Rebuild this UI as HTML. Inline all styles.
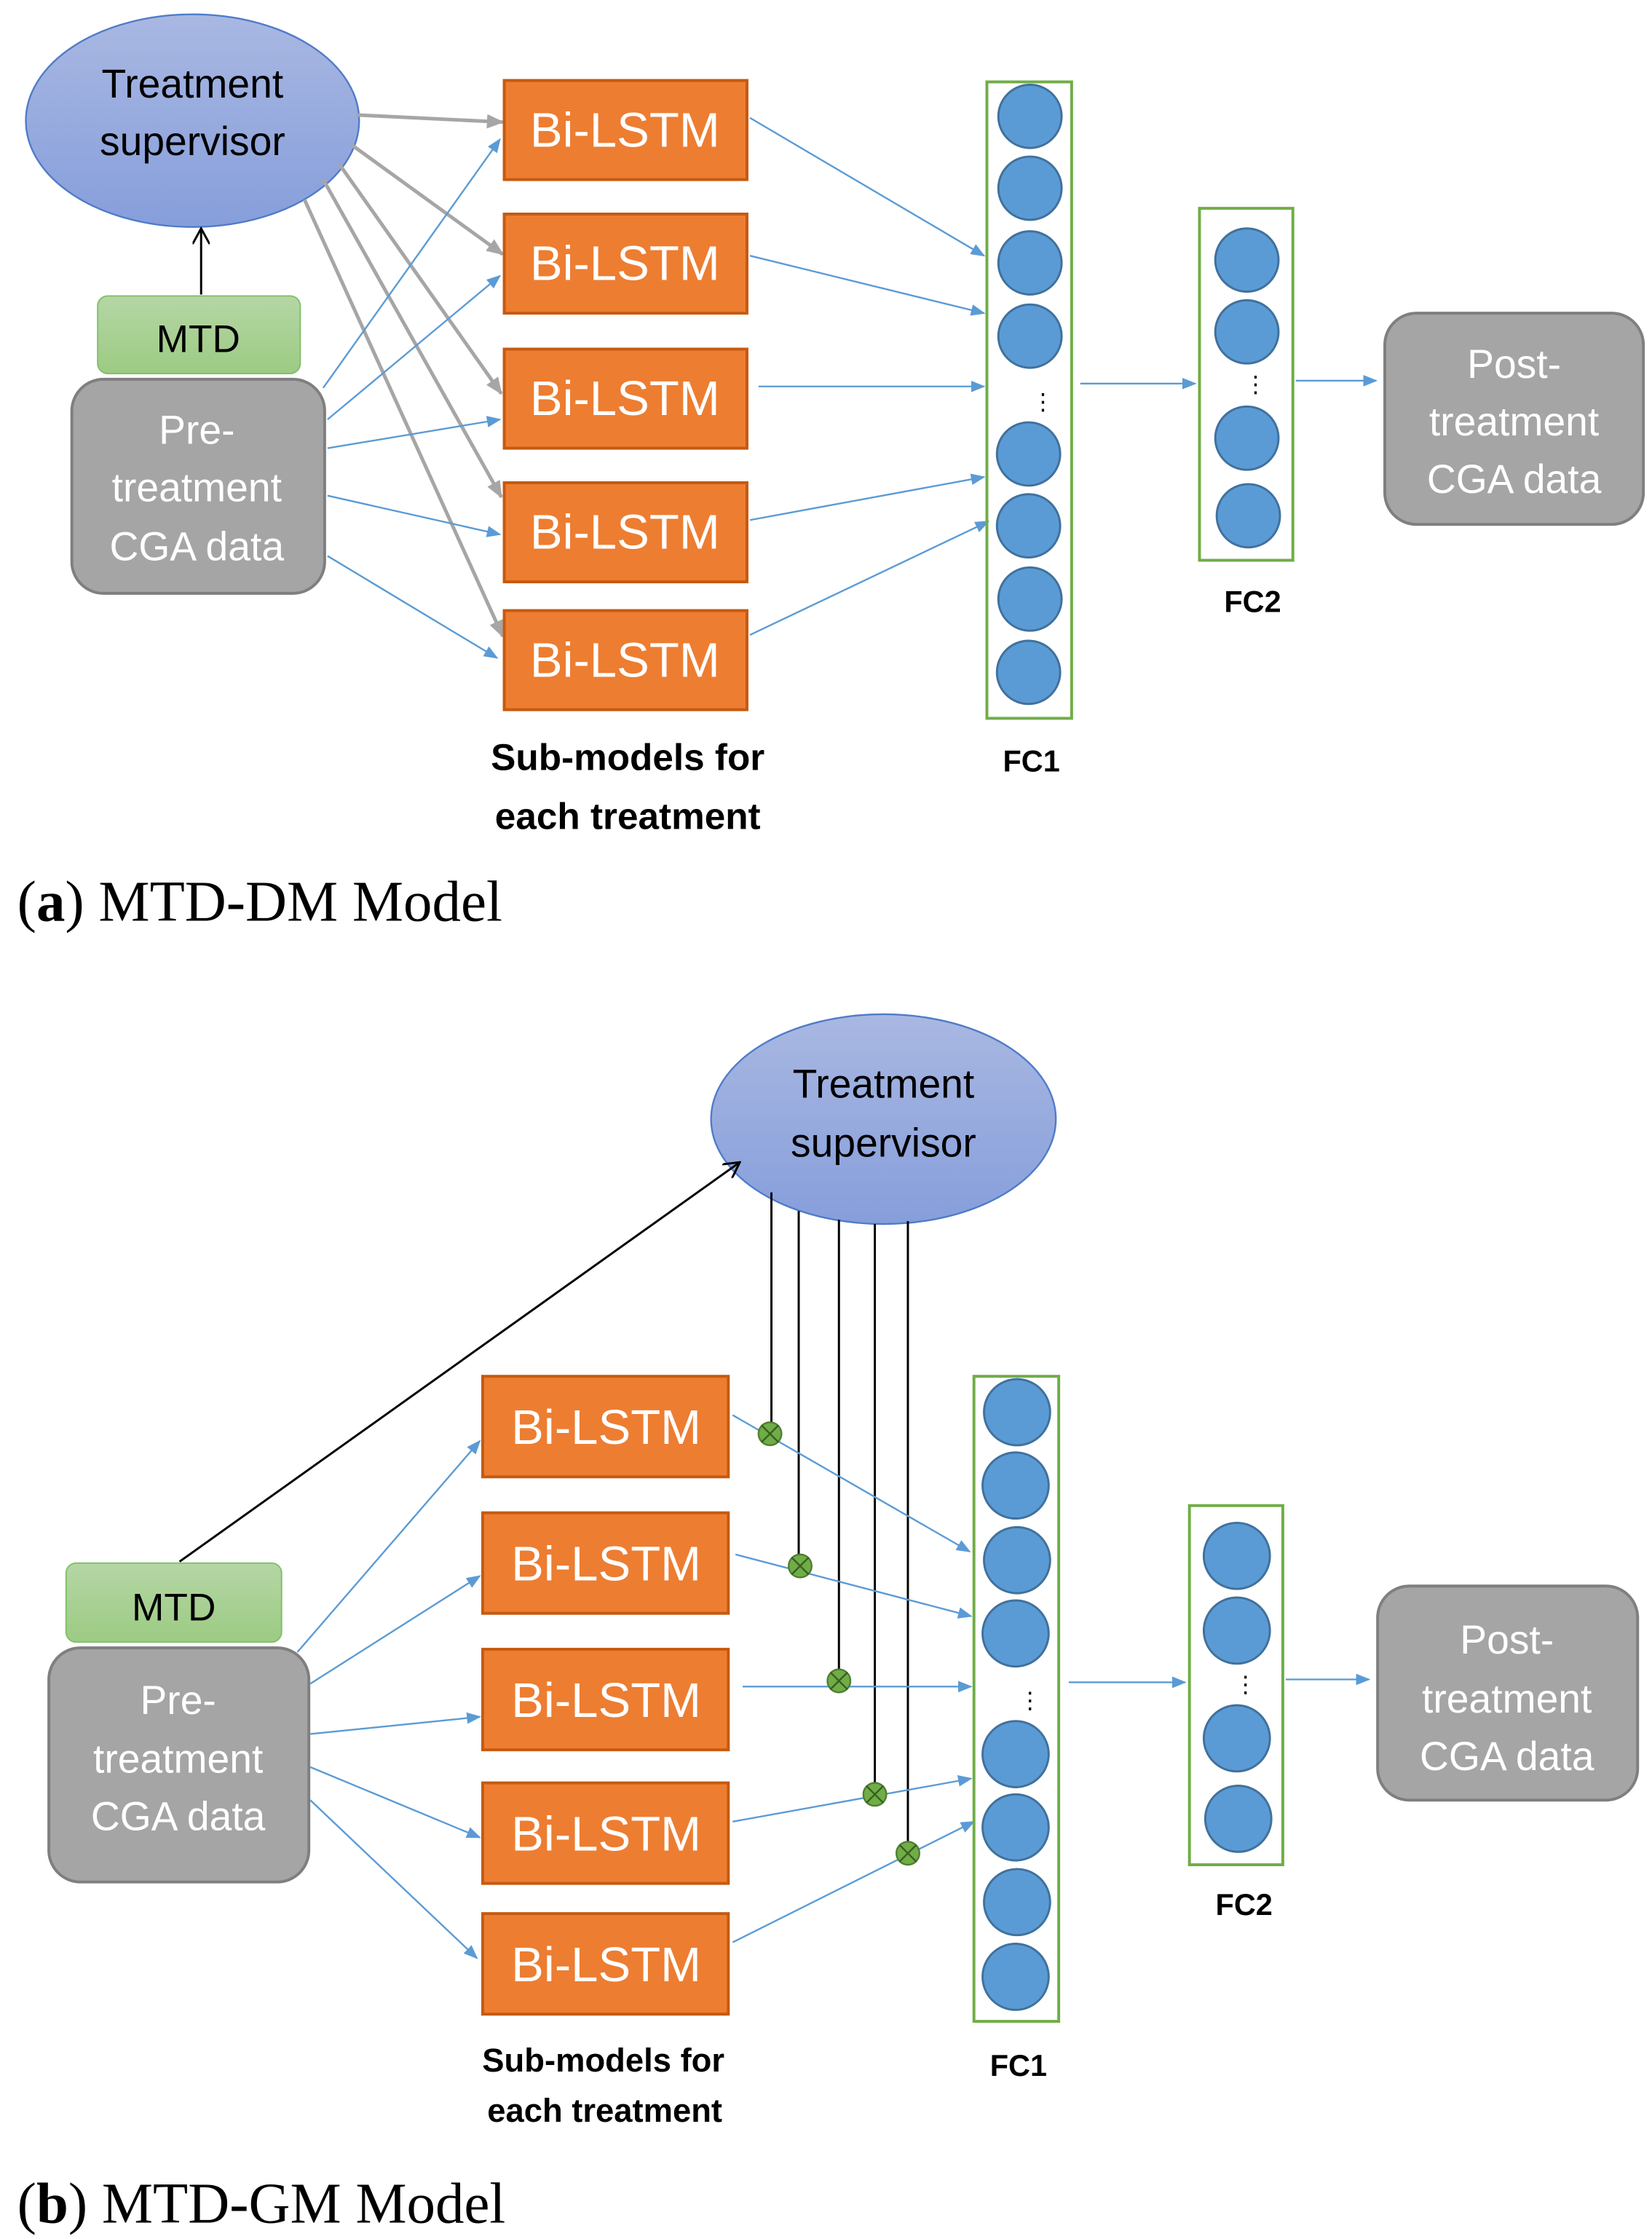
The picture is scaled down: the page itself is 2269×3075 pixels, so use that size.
<!DOCTYPE html>
<html><head><meta charset="utf-8"><style>
html,body{margin:0;padding:0;background:#fff;}
svg{display:block;}
text{font-family:"Liberation Sans","DejaVu Sans",sans-serif;}
.b{font-size:34px;fill:#fff;text-anchor:middle;}
.g{font-size:28px;fill:#fff;text-anchor:middle;}
.lbl{font-weight:bold;fill:#000;text-anchor:middle;}
.cap{font-family:"Liberation Serif",serif;font-size:40px;fill:#000;}
.bl{stroke:#5b9bd5;stroke-width:1.2;fill:none;}
.gr{stroke:#a6a6a6;stroke-width:2.5;fill:none;}
.box{fill:#ed7d31;stroke:#c55a11;stroke-width:2;}
.gb{fill:#a5a5a5;stroke:#7f7f7f;stroke-width:2;}
.c{fill:#5b9bd5;stroke:#41719c;stroke-width:1.5;}
.fc{fill:none;stroke:#70ad47;stroke-width:2;}
</style></head><body>
<svg width="2269" height="3075" viewBox="0 0 1150 1558.5" preserveAspectRatio="none" xmlns="http://www.w3.org/2000/svg">
<defs>
<linearGradient id="eg" x1="0" y1="0" x2="0" y2="1"><stop offset="0" stop-color="#a9b8e2"/><stop offset="1" stop-color="#869edb"/></linearGradient>
<linearGradient id="mg" x1="0" y1="0" x2="0" y2="1"><stop offset="0" stop-color="#b5d6a5"/><stop offset="1" stop-color="#9ccb83"/></linearGradient>
<marker id="ab" markerWidth="10" markerHeight="8" refX="9" refY="4" orient="auto" markerUnits="userSpaceOnUse"><path d="M0,0 L10,4 L0,8 z" fill="#5b9bd5"/></marker>
<marker id="ag" markerWidth="12" markerHeight="10" refX="11" refY="5" orient="auto" markerUnits="userSpaceOnUse"><path d="M0,0 L12,5 L0,10 z" fill="#a6a6a6"/></marker>
<marker id="ak" markerWidth="12" markerHeight="12" refX="11" refY="6" orient="auto" markerUnits="userSpaceOnUse"><path d="M0,0 L11,6 L0,12" fill="none" stroke="#000" stroke-width="1.5"/></marker>
</defs>

<!-- ===== (a) ===== -->
<ellipse cx="134" cy="84" rx="116" ry="74" fill="url(#eg)" stroke="#4f7bc8" stroke-width="1.2"/>
<text x="134" y="68" font-size="28" text-anchor="middle">Treatment</text>
<text x="134" y="108" font-size="28" text-anchor="middle">supervisor</text>
<line x1="140" y1="205" x2="140" y2="159" stroke="#000" stroke-width="1.5" marker-end="url(#ak)"/>
<rect x="68" y="206" width="141" height="54" rx="7" fill="url(#mg)" stroke="#82c06a" stroke-width="1"/>
<text x="138" y="245" font-size="27" text-anchor="middle">MTD</text>
<rect x="50" y="264" width="176" height="149" rx="22" class="gb"/>
<text x="137" y="309" class="g">Pre-</text>
<text x="137" y="349" class="g">treatment</text>
<text x="137" y="390" class="g">CGA data</text>

<g class="gr">
<line x1="248" y1="80" x2="350" y2="85" marker-end="url(#ag)"/>
<line x1="245" y1="101" x2="350" y2="177" marker-end="url(#ag)"/>
<line x1="236" y1="114" x2="349" y2="274" marker-end="url(#ag)"/>
<line x1="225" y1="125" x2="349" y2="346" marker-end="url(#ag)"/>
<line x1="212" y1="139" x2="350" y2="443" marker-end="url(#ag)"/>
</g>
<g class="bl" marker-end="url(#ab)">
<line x1="225" y1="270" x2="348" y2="97"/>
<line x1="228" y1="292" x2="348" y2="192"/>
<line x1="228" y1="312" x2="348" y2="292"/>
<line x1="228" y1="345" x2="348" y2="372"/>
<line x1="228" y1="387" x2="346" y2="458"/>
</g>
<g>
<rect x="351" y="56" width="169" height="69" class="box"/><text x="435" y="102" class="b">Bi-LSTM</text>
<rect x="351" y="149" width="169" height="69" class="box"/><text x="435" y="195" class="b">Bi-LSTM</text>
<rect x="351" y="243" width="169" height="69" class="box"/><text x="435" y="289" class="b">Bi-LSTM</text>
<rect x="351" y="336" width="169" height="69" class="box"/><text x="435" y="382" class="b">Bi-LSTM</text>
<rect x="351" y="425" width="169" height="69" class="box"/><text x="435" y="471" class="b">Bi-LSTM</text>
</g>
<g class="bl" marker-end="url(#ab)">
<line x1="522" y1="82" x2="685" y2="178"/>
<line x1="522" y1="178" x2="685" y2="218"/>
<line x1="528" y1="269" x2="685" y2="269"/>
<line x1="522" y1="362" x2="685" y2="332"/>
<line x1="522" y1="442" x2="688" y2="363"/>
<line x1="752" y1="267" x2="832" y2="267"/>
<line x1="902" y1="265" x2="958" y2="265"/>
</g>
<rect x="687" y="57" width="59" height="443" class="fc"/>
<g class="c">
<ellipse cx="717" cy="81" rx="22" ry="22"/><ellipse cx="717" cy="131" rx="22" ry="22"/>
<ellipse cx="717" cy="183" rx="22" ry="22"/><ellipse cx="717" cy="234" rx="22" ry="22"/>
<ellipse cx="716" cy="316" rx="22" ry="22"/><ellipse cx="716" cy="366" rx="22" ry="22"/>
<ellipse cx="717" cy="417" rx="22" ry="22"/><ellipse cx="716" cy="468" rx="22" ry="22"/>
</g>
<text x="726" y="285" font-size="16" text-anchor="middle">⋮</text>
<rect x="835" y="145" width="65" height="245" class="fc"/>
<g class="c">
<ellipse cx="868" cy="181" rx="22" ry="22"/><ellipse cx="868" cy="231" rx="22" ry="22"/>
<ellipse cx="868" cy="305" rx="22" ry="22"/><ellipse cx="869" cy="359" rx="22" ry="22"/>
</g>
<text x="874" y="273" font-size="16" text-anchor="middle">⋮</text>
<rect x="964" y="218" width="180" height="147" rx="22" class="gb"/>
<text x="1054" y="263" class="g">Post-</text>
<text x="1054" y="303" class="g">treatment</text>
<text x="1054" y="343" class="g">CGA data</text>
<text x="718" y="537" class="lbl" font-size="21">FC1</text>
<text x="872" y="426" class="lbl" font-size="21">FC2</text>
<text x="437" y="536" class="lbl" font-size="26">Sub-models for</text>
<text x="437" y="577" class="lbl" font-size="26">each treatment</text>
<text x="12" y="641" class="cap">(<tspan font-weight="bold">a</tspan>) MTD-DM Model</text>

<!-- ===== (b) ===== -->
<ellipse cx="615" cy="779" rx="120" ry="73" fill="url(#eg)" stroke="#4f7bc8" stroke-width="1.2"/>
<text x="615" y="764" font-size="28" text-anchor="middle">Treatment</text>
<text x="615" y="805" font-size="28" text-anchor="middle">supervisor</text>
<line x1="125" y1="1087" x2="515" y2="809" stroke="#000" stroke-width="1.5" marker-end="url(#ak)"/>
<g stroke="#000" stroke-width="1.5">
<line x1="537" y1="830" x2="537" y2="997"/>
<line x1="556" y1="843" x2="556" y2="1090"/>
<line x1="584" y1="849" x2="584" y2="1170"/>
<line x1="609" y1="852" x2="609" y2="1249"/>
<line x1="632" y1="850" x2="632" y2="1290"/>
</g>
<rect x="46" y="1088" width="150" height="55" rx="7" fill="url(#mg)" stroke="#82c06a" stroke-width="1"/>
<text x="121" y="1128" font-size="27" text-anchor="middle">MTD</text>
<rect x="34" y="1147" width="181" height="163" rx="22" class="gb"/>
<text x="124" y="1193" class="g">Pre-</text>
<text x="124" y="1234" class="g">treatment</text>
<text x="124" y="1274" class="g">CGA data</text>
<g class="bl" marker-end="url(#ab)">
<line x1="207" y1="1150" x2="334" y2="1003"/>
<line x1="216" y1="1172" x2="334" y2="1097"/>
<line x1="216" y1="1207" x2="334" y2="1195"/>
<line x1="216" y1="1230" x2="334" y2="1279"/>
<line x1="216" y1="1253" x2="332" y2="1363"/>
</g>
<g>
<rect x="336" y="958" width="171" height="70" class="box"/><text x="422" y="1005" class="b">Bi-LSTM</text>
<rect x="336" y="1053" width="171" height="70" class="box"/><text x="422" y="1100" class="b">Bi-LSTM</text>
<rect x="336" y="1148" width="171" height="70" class="box"/><text x="422" y="1195" class="b">Bi-LSTM</text>
<rect x="336" y="1241" width="171" height="70" class="box"/><text x="422" y="1288" class="b">Bi-LSTM</text>
<rect x="336" y="1332" width="171" height="70" class="box"/><text x="422" y="1379" class="b">Bi-LSTM</text>
</g>
<g class="bl" marker-end="url(#ab)">
<line x1="510" y1="985" x2="675" y2="1080"/>
<line x1="512" y1="1082" x2="676" y2="1125"/>
<line x1="517" y1="1174" x2="676" y2="1174"/>
<line x1="510" y1="1268" x2="676" y2="1238"/>
<line x1="510" y1="1352" x2="678" y2="1268"/>
<line x1="744" y1="1171" x2="825" y2="1171"/>
<line x1="895" y1="1169" x2="953" y2="1169"/>
</g>
<g fill="#70ad47" stroke="#507e32" stroke-width="1.2">
<circle cx="536" cy="998" r="8"/><circle cx="557" cy="1090" r="8"/>
<circle cx="584" cy="1170" r="8"/><circle cx="609" cy="1249" r="8"/>
<circle cx="632" cy="1290" r="8"/>
</g>
<g stroke="#3a5e22" stroke-width="1.2">
<path d="M530,992 l12,12 M542,992 l-12,12"/><path d="M551,1084 l12,12 M563,1084 l-12,12"/>
<path d="M578,1164 l12,12 M590,1164 l-12,12"/><path d="M603,1243 l12,12 M615,1243 l-12,12"/>
<path d="M626,1284 l12,12 M638,1284 l-12,12"/>
</g>
<rect x="678" y="958" width="59" height="449" class="fc"/>
<g class="c">
<ellipse cx="708" cy="983" rx="23" ry="23"/><ellipse cx="707" cy="1034" rx="23" ry="23"/>
<ellipse cx="708" cy="1086" rx="23" ry="23"/><ellipse cx="707" cy="1137" rx="23" ry="23"/>
<ellipse cx="707" cy="1221" rx="23" ry="23"/><ellipse cx="707" cy="1272" rx="23" ry="23"/>
<ellipse cx="708" cy="1324" rx="23" ry="23"/><ellipse cx="707" cy="1376" rx="23" ry="23"/>
</g>
<text x="717" y="1189" font-size="16" text-anchor="middle">⋮</text>
<rect x="828" y="1048" width="65" height="250" class="fc"/>
<g class="c">
<ellipse cx="861" cy="1083" rx="23" ry="23"/><ellipse cx="861" cy="1135" rx="23" ry="23"/>
<ellipse cx="861" cy="1210" rx="23" ry="23"/><ellipse cx="862" cy="1266" rx="23" ry="23"/>
</g>
<text x="867" y="1178" font-size="16" text-anchor="middle">⋮</text>
<rect x="959" y="1104" width="181" height="149" rx="22" class="gb"/>
<text x="1049" y="1151" class="g">Post-</text>
<text x="1049" y="1192" class="g">treatment</text>
<text x="1049" y="1232" class="g">CGA data</text>
<text x="709" y="1445" class="lbl" font-size="21">FC1</text>
<text x="866" y="1333" class="lbl" font-size="21">FC2</text>
<text x="420" y="1442" class="lbl" font-size="23">Sub-models for</text>
<text x="421" y="1477" class="lbl" font-size="23">each treatment</text>
<text x="12" y="1547" class="cap">(<tspan font-weight="bold">b</tspan>) MTD-GM Model</text>
</svg>
</body></html>
